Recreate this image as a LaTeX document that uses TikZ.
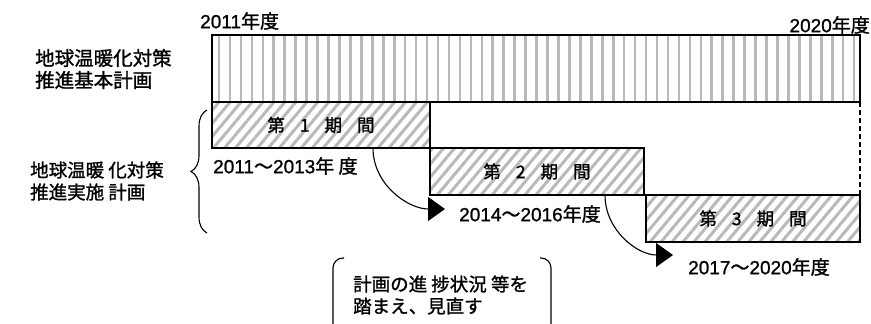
\documentclass[tikz,border=0pt]{standalone}
\usepackage{fontspec}
\setmainfont{Liberation Sans}[FakeBold=1]
\newfontfamily\jp{Noto Sans CJK JP}[FakeBold=1.3]
\usetikzlibrary{arrows.meta,patterns.meta,decorations.pathreplacing}

\definecolor{hatchgray}{RGB}{185,185,185}

\newcommand{\kikangap}{\hspace{15pt}}

\tikzset{
	kihonbox/.style={draw=black, line width=1.1pt, inner sep=0pt, outer sep=0pt, anchor=north west,
		pattern={Lines[angle=90,distance=10.95pt,line width=2.6pt]}, pattern color=hatchgray},
	kikanbox/.style={draw=black, line width=1.1pt, inner sep=0pt, outer sep=0pt, anchor=north west,
		pattern={Lines[angle=50,distance=8.4pt,line width=3pt]}, pattern color=hatchgray,
		font=\jp\fontsize{17.5}{20}\selectfont},
	nendo/.style={anchor=west, inner sep=0pt, font=\fontsize{19}{22}\selectfont},
	keikaku/.style={anchor=west, inner sep=0pt, align=left,
		font=\jp\fontsize{#1}{22}\selectfont},
	keikaku/.default=18.5,
	nextarrow/.style={line width=1.1pt, -{Triangle[length=17pt,width=24pt]}}
}

\begin{document}
\begin{tikzpicture}[x=1pt, y=-1pt]
	
	\useasboundingbox (0,0) rectangle (871,324);
	
	% Kihon keikaku
	\node[kihonbox, minimum width=648pt, minimum height=67pt] (kihon) at (212,35) {};
	
	\node[nendo] (kaishi) at (200,21) {2011{\jp 年度}};
	\node[nendo, anchor=east] (shuryo) at (870,25) {2020{\jp 年度}};
	
	\node[keikaku=19.5] (kihonmei) at (35,69) {地球温暖化対策\\推進基本計画};
	
	
	% Jisshi keikaku
	\node[keikaku] (jisshimei) at (30,181) {地球温暖 化対策\\推進実施 計画};
	
	\coordinate (bracetop) at (207,110);
	\coordinate (bracebot) at (207,233);
	\draw [decorate, decoration={brace,amplitude=16pt}, line width=1.1pt] (bracebot) -- (bracetop);
	
	
	% Kikan
	\node[kikanbox, minimum width=218pt, minimum height=46pt] (kikan1) at (212,102) {第\kikangap 1\kikangap 期\kikangap 間};
	\node[kikanbox, minimum width=214pt, minimum height=47pt] (kikan2) at (430,148) {第\kikangap 2\kikangap 期\kikangap 間};
	\node[kikanbox, minimum width=214pt, minimum height=47pt] (kikan3) at (646,195) {第\kikangap 3\kikangap 期\kikangap 間};
	
	\node[nendo] (nendo1) at (213,166) {2011{\jp ～}2013{\jp 年 度}};
	\node[nendo] (nendo2) at (459,214) {2014{\jp ～}2016{\jp 年度}};
	\node[nendo] (nendo3) at (688,267) {2017{\jp ～}2020{\jp 年度}};
	
	
	% Flechas
	\draw [nextarrow] ([xshift=-57pt]kikan1.south east) to[out=-90,in=180] ([xshift=-14pt,yshift=5pt]nendo2.west);
	\draw [nextarrow] ([xshift=-39pt]kikan2.south east) to[out=-90,in=180] ([xshift=-15pt,yshift=12pt]nendo3.west);
	
	\draw [line width=1.3pt, dash pattern=on 5pt off 3pt] (kihon.south east) -- (kikan3.north east);
	
	
	% Minaoshi
	\node[keikaku] (minaoshi) at (353,295) {計画の進 捗状況 等を\\踏まえ、見直す};
	
	\draw [line width=1.1pt, rounded corners=10pt] (344,258) -- (333,258) -- (333,324);
	\draw [line width=1.1pt, rounded corners=10pt] (540,258) -- (551,258) -- (551,324);
	
\end{tikzpicture}
\end{document}
